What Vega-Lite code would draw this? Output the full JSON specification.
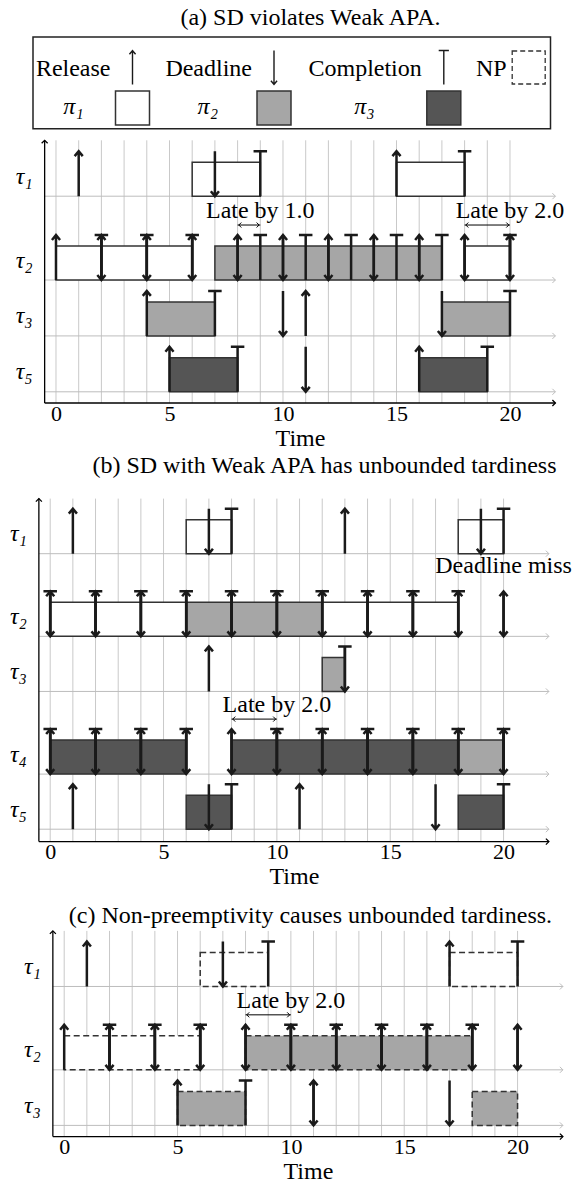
{
 "$schema": "https://vega.github.io/schema/vega-lite/v6.json",
 "background": "white",
 "padding": {"left": 9, "top": 5, "right": 0, "bottom": 0},
 "bounds": "flush",
 "spacing": 11.3,
 "datasets": {
  "grid": [{"t":0},{"t":1},{"t":2},{"t":3},{"t":4},{"t":5},{"t":6},{"t":7},{"t":8},{"t":9},{"t":10},{"t":11},{"t":12},{"t":13},{"t":14},{"t":15},{"t":16},{"t":17},{"t":18},{"t":19},{"t":20}],
  "legend_events": [
   {"item":"Release","kind":"release","group":"events"},
   {"item":"Deadline","kind":"deadline","group":"events"},
   {"item":"Completion","kind":"completion","group":"events"},
   {"item":"NP","kind":"np","group":"events"}],
  "legend_procs": [
   {"item":"π₁","proc":"π1","group":"processors"},
   {"item":"π₂","proc":"π2","group":"processors"},
   {"item":"π₃","proc":"π3","group":"processors"}],
  "a_tasks": [{"task":"τ1","label":"τ₁"},{"task":"τ2","label":"τ₂"},{"task":"τ3","label":"τ₃"},{"task":"τ5","label":"τ₅"}],
  "a_boxes": [
   {"task":"τ1","start":6,"end":9,"proc":"π1"},
   {"task":"τ1","start":15,"end":18,"proc":"π1"},
   {"task":"τ2","start":0,"end":6,"proc":"π1"},
   {"task":"τ2","start":7,"end":17,"proc":"π2"},
   {"task":"τ2","start":18,"end":20,"proc":"π1"},
   {"task":"τ3","start":4,"end":7,"proc":"π2"},
   {"task":"τ3","start":17,"end":20,"proc":"π2"},
   {"task":"τ5","start":5,"end":8,"proc":"π3"},
   {"task":"τ5","start":16,"end":19,"proc":"π3"}],
  "a_events": [
   {"task":"τ1","t":1,"kind":"release"},{"task":"τ1","t":15,"kind":"release"},{"task":"τ1","t":7,"kind":"deadline"},{"task":"τ1","t":9,"kind":"completion"},{"task":"τ1","t":18,"kind":"completion"},
   {"task":"τ2","t":0,"kind":"release"},{"task":"τ2","t":2,"kind":"release"},{"task":"τ2","t":4,"kind":"release"},{"task":"τ2","t":6,"kind":"release"},{"task":"τ2","t":8,"kind":"release"},{"task":"τ2","t":10,"kind":"release"},{"task":"τ2","t":12,"kind":"release"},{"task":"τ2","t":14,"kind":"release"},{"task":"τ2","t":16,"kind":"release"},{"task":"τ2","t":18,"kind":"release"},{"task":"τ2","t":20,"kind":"release"},
   {"task":"τ2","t":2,"kind":"deadline"},{"task":"τ2","t":4,"kind":"deadline"},{"task":"τ2","t":6,"kind":"deadline"},{"task":"τ2","t":8,"kind":"deadline"},{"task":"τ2","t":10,"kind":"deadline"},{"task":"τ2","t":12,"kind":"deadline"},{"task":"τ2","t":14,"kind":"deadline"},{"task":"τ2","t":16,"kind":"deadline"},{"task":"τ2","t":18,"kind":"deadline"},{"task":"τ2","t":20,"kind":"deadline"},
   {"task":"τ2","t":2,"kind":"completion"},{"task":"τ2","t":4,"kind":"completion"},{"task":"τ2","t":6,"kind":"completion"},{"task":"τ2","t":9,"kind":"completion"},{"task":"τ2","t":11,"kind":"completion"},{"task":"τ2","t":13,"kind":"completion"},{"task":"τ2","t":15,"kind":"completion"},{"task":"τ2","t":17,"kind":"completion"},{"task":"τ2","t":20,"kind":"completion"},
   {"task":"τ3","t":4,"kind":"release"},{"task":"τ3","t":11,"kind":"release"},{"task":"τ3","t":10,"kind":"deadline"},{"task":"τ3","t":17,"kind":"deadline"},{"task":"τ3","t":7,"kind":"completion"},{"task":"τ3","t":20,"kind":"completion"},
   {"task":"τ5","t":5,"kind":"release"},{"task":"τ5","t":16,"kind":"release"},{"task":"τ5","t":11,"kind":"deadline"},{"task":"τ5","t":8,"kind":"completion"},{"task":"τ5","t":19,"kind":"completion"}],
  "a_late": [{"task":"τ2","from":8,"to":9,"label":"Late by 1.0"},{"task":"τ2","from":18,"to":20,"label":"Late by 2.0"}],
  "b_tasks": [{"task":"τ1","label":"τ₁"},{"task":"τ2","label":"τ₂"},{"task":"τ3","label":"τ₃"},{"task":"τ4","label":"τ₄"},{"task":"τ5","label":"τ₅"}],
  "b_boxes": [
   {"task":"τ1","start":6,"end":8,"proc":"π1"},
   {"task":"τ1","start":18,"end":20,"proc":"π1"},
   {"task":"τ2","start":0,"end":6,"proc":"π1"},
   {"task":"τ2","start":6,"end":12,"proc":"π2"},
   {"task":"τ2","start":12,"end":18,"proc":"π1"},
   {"task":"τ3","start":12,"end":13,"proc":"π2"},
   {"task":"τ4","start":0,"end":6,"proc":"π3"},
   {"task":"τ4","start":8,"end":18,"proc":"π3"},
   {"task":"τ4","start":18,"end":20,"proc":"π2"},
   {"task":"τ5","start":6,"end":8,"proc":"π3"},
   {"task":"τ5","start":18,"end":20,"proc":"π3"}],
  "b_events": [
   {"task":"τ1","t":1,"kind":"release"},{"task":"τ1","t":13,"kind":"release"},{"task":"τ1","t":7,"kind":"deadline"},{"task":"τ1","t":19,"kind":"deadline"},{"task":"τ1","t":8,"kind":"completion"},{"task":"τ1","t":20,"kind":"completion"},
   {"task":"τ2","t":0,"kind":"release"},{"task":"τ2","t":2,"kind":"release"},{"task":"τ2","t":4,"kind":"release"},{"task":"τ2","t":6,"kind":"release"},{"task":"τ2","t":8,"kind":"release"},{"task":"τ2","t":10,"kind":"release"},{"task":"τ2","t":12,"kind":"release"},{"task":"τ2","t":14,"kind":"release"},{"task":"τ2","t":16,"kind":"release"},{"task":"τ2","t":18,"kind":"release"},{"task":"τ2","t":20,"kind":"release"},
   {"task":"τ2","t":0,"kind":"deadline"},{"task":"τ2","t":2,"kind":"deadline"},{"task":"τ2","t":4,"kind":"deadline"},{"task":"τ2","t":6,"kind":"deadline"},{"task":"τ2","t":8,"kind":"deadline"},{"task":"τ2","t":10,"kind":"deadline"},{"task":"τ2","t":12,"kind":"deadline"},{"task":"τ2","t":14,"kind":"deadline"},{"task":"τ2","t":16,"kind":"deadline"},{"task":"τ2","t":18,"kind":"deadline"},{"task":"τ2","t":20,"kind":"deadline"},
   {"task":"τ2","t":0,"kind":"completion"},{"task":"τ2","t":2,"kind":"completion"},{"task":"τ2","t":4,"kind":"completion"},{"task":"τ2","t":6,"kind":"completion"},{"task":"τ2","t":8,"kind":"completion"},{"task":"τ2","t":10,"kind":"completion"},{"task":"τ2","t":12,"kind":"completion"},{"task":"τ2","t":14,"kind":"completion"},{"task":"τ2","t":16,"kind":"completion"},{"task":"τ2","t":18,"kind":"completion"},
   {"task":"τ3","t":7,"kind":"release"},{"task":"τ3","t":13,"kind":"deadline"},{"task":"τ3","t":13,"kind":"completion"},
   {"task":"τ4","t":0,"kind":"release"},{"task":"τ4","t":2,"kind":"release"},{"task":"τ4","t":4,"kind":"release"},{"task":"τ4","t":6,"kind":"release"},{"task":"τ4","t":8,"kind":"release"},{"task":"τ4","t":10,"kind":"release"},{"task":"τ4","t":12,"kind":"release"},{"task":"τ4","t":14,"kind":"release"},{"task":"τ4","t":16,"kind":"release"},{"task":"τ4","t":18,"kind":"release"},{"task":"τ4","t":20,"kind":"release"},
   {"task":"τ4","t":0,"kind":"deadline"},{"task":"τ4","t":2,"kind":"deadline"},{"task":"τ4","t":4,"kind":"deadline"},{"task":"τ4","t":6,"kind":"deadline"},{"task":"τ4","t":8,"kind":"deadline"},{"task":"τ4","t":10,"kind":"deadline"},{"task":"τ4","t":12,"kind":"deadline"},{"task":"τ4","t":14,"kind":"deadline"},{"task":"τ4","t":16,"kind":"deadline"},{"task":"τ4","t":18,"kind":"deadline"},{"task":"τ4","t":20,"kind":"deadline"},
   {"task":"τ4","t":0,"kind":"completion"},{"task":"τ4","t":2,"kind":"completion"},{"task":"τ4","t":4,"kind":"completion"},{"task":"τ4","t":6,"kind":"completion"},{"task":"τ4","t":10,"kind":"completion"},{"task":"τ4","t":12,"kind":"completion"},{"task":"τ4","t":14,"kind":"completion"},{"task":"τ4","t":16,"kind":"completion"},{"task":"τ4","t":18,"kind":"completion"},{"task":"τ4","t":20,"kind":"completion"},
   {"task":"τ5","t":1,"kind":"release"},{"task":"τ5","t":11,"kind":"release"},{"task":"τ5","t":7,"kind":"deadline"},{"task":"τ5","t":17,"kind":"deadline"},{"task":"τ5","t":8,"kind":"completion"},{"task":"τ5","t":20,"kind":"completion"}],
  "b_late": [{"task":"τ4","from":8,"to":10,"label":"Late by 2.0"}],
  "b_notes": [{"task":"τ1","t":20,"label":"Deadline miss"}],
  "c_tasks": [{"task":"τ1","label":"τ₁"},{"task":"τ2","label":"τ₂"},{"task":"τ3","label":"τ₃"}],
  "c_boxes": [
   {"task":"τ1","start":6,"end":9,"proc":"π1"},
   {"task":"τ1","start":17,"end":20,"proc":"π1"},
   {"task":"τ2","start":0,"end":6,"proc":"π1"},
   {"task":"τ2","start":8,"end":18,"proc":"π2"},
   {"task":"τ3","start":5,"end":8,"proc":"π2"},
   {"task":"τ3","start":18,"end":20,"proc":"π2"}],
  "c_events": [
   {"task":"τ1","t":1,"kind":"release"},{"task":"τ1","t":17,"kind":"release"},{"task":"τ1","t":7,"kind":"deadline"},{"task":"τ1","t":9,"kind":"completion"},{"task":"τ1","t":20,"kind":"completion"},
   {"task":"τ2","t":0,"kind":"release"},{"task":"τ2","t":2,"kind":"release"},{"task":"τ2","t":4,"kind":"release"},{"task":"τ2","t":6,"kind":"release"},{"task":"τ2","t":8,"kind":"release"},{"task":"τ2","t":10,"kind":"release"},{"task":"τ2","t":12,"kind":"release"},{"task":"τ2","t":14,"kind":"release"},{"task":"τ2","t":16,"kind":"release"},{"task":"τ2","t":18,"kind":"release"},{"task":"τ2","t":20,"kind":"release"},
   {"task":"τ2","t":2,"kind":"deadline"},{"task":"τ2","t":4,"kind":"deadline"},{"task":"τ2","t":6,"kind":"deadline"},{"task":"τ2","t":8,"kind":"deadline"},{"task":"τ2","t":10,"kind":"deadline"},{"task":"τ2","t":12,"kind":"deadline"},{"task":"τ2","t":14,"kind":"deadline"},{"task":"τ2","t":16,"kind":"deadline"},{"task":"τ2","t":18,"kind":"deadline"},{"task":"τ2","t":20,"kind":"deadline"},
   {"task":"τ2","t":2,"kind":"completion"},{"task":"τ2","t":4,"kind":"completion"},{"task":"τ2","t":6,"kind":"completion"},{"task":"τ2","t":10,"kind":"completion"},{"task":"τ2","t":12,"kind":"completion"},{"task":"τ2","t":14,"kind":"completion"},{"task":"τ2","t":16,"kind":"completion"},{"task":"τ2","t":18,"kind":"completion"},
   {"task":"τ3","t":5,"kind":"release"},{"task":"τ3","t":11,"kind":"release"},{"task":"τ3","t":11,"kind":"deadline"},{"task":"τ3","t":17,"kind":"deadline"},{"task":"τ3","t":8,"kind":"completion"}],
  "c_late": [{"task":"τ2","from":8,"to":10,"label":"Late by 2.0"}]
 },
 "vconcat": [
  {
   "width": 517.5,
   "height": 91.7,
   "view": {"stroke": "#222222", "strokeWidth": 1.5},
   "title": {"text": "(a) SD violates Weak APA.", "font": "Liberation Serif", "fontSize": 24, "fontWeight": "normal", "color": "black", "frame": "group", "anchor": "middle", "dx": 18.75, "offset": 7},
   "layer": [
    {
     "data": {"name": "legend_events"},
     "encoding": {
      "x": {"field": "item", "type": "nominal", "scale": {"type": "point", "domain": ["Release","r1","r2","r3","r4","Deadline","r5","r6","r7","r8","r9","Completion","r10","r11","NP"], "range": [99.5, 495.7], "padding": 0}, "axis": null},
      "y": {"field": "group", "type": "nominal", "scale": {"type": "point", "domain": ["events","processors"], "range": [30.5, 71], "padding": 0}, "axis": null}
     },
     "layer": [
      {"mark": {"type": "text", "align": "right", "baseline": "alphabetic", "dx": -22, "dy": 8.5, "fontSize": 24, "font": "Liberation Serif", "fill": "black"},
       "encoding": {"text": {"field": "item"}}},
      {"transform": [{"filter": "datum.kind !== 'np'"}],
       "mark": {"type": "point", "size": 1156, "filled": false, "stroke": "#1a1a1a", "strokeWidth": 1.4, "opacity": 1},
       "encoding": {"shape": {"field": "kind", "type": "nominal", "scale": {"domain": ["release","deadline","completion"], "range": ["M0,1L0,-1M-0.18,-0.78L0,-1L0.18,-0.78", "M0,-1L0,1M-0.18,0.78L0,1L0.18,0.78", "M0,1L0,-1M-0.3,-1L0.3,-1"]}, "legend": null}}},
      {"transform": [{"filter": "datum.kind === 'np'"}],
       "mark": {"type": "point", "shape": "square", "size": 1089, "filled": false, "stroke": "#333333", "strokeWidth": 1.3, "strokeDash": [5, 3], "opacity": 1}}
     ]
    },
    {
     "data": {"name": "legend_procs"},
     "mark": {"type": "point", "shape": "square", "size": 1156, "filled": true, "stroke": "#333333", "strokeWidth": 1.5, "opacity": 1},
     "encoding": {
      "x": {"field": "item", "type": "nominal", "scale": {"type": "point", "domain": ["π₁","p1","p2","p3","p4","π₂","p5","p6","p7","p8","p9","π₃","p10","p11","p12"], "range": [99.5, 495.7], "padding": 0}, "axis": null},
      "y": {"field": "group", "type": "nominal", "scale": {"type": "point", "domain": ["events","processors"], "range": [30.5, 71], "padding": 0}, "axis": null},
      "fill": {"field": "proc", "type": "nominal", "scale": {"domain": ["π1","π2","π3"], "range": ["#ffffff","#a6a6a6","#555555"]}, "legend": null}
     }
    },
    {
     "data": {"name": "legend_procs"},
     "mark": {"type": "text", "align": "center", "baseline": "alphabetic", "dy": 6, "fontSize": 24, "fontStyle": "italic", "font": "Liberation Serif", "fill": "black"},
     "encoding": {
      "x": {"field": "item", "type": "nominal", "scale": {"type": "point", "domain": ["π₁","q1","q2","q3","q4","q5","π₂","q6","q7","q8","q9","q10","q11","π₃"], "range": [40.5, 331.5], "padding": 0}, "axis": null},
      "y": {"field": "group", "type": "nominal", "scale": {"type": "point", "domain": ["events","processors"], "range": [30.5, 71], "padding": 0}, "axis": null},
      "text": {"field": "item"}
     }
    }
   ],
   "resolve": {"scale": {"x": "independent"}}
  },
  {
   "width": 522.4,
   "height": 262.7,
   "layer": [
    {"data": {"name": "grid"},
     "mark": {"type": "rule", "stroke": "#c9c9c9", "strokeWidth": 1},
     "encoding": {
      "x": {"field": "t", "type": "quantitative", "scale": {"domain": [-1.013, 22], "nice": false, "zero": false}, "axis": {"values": [0,5,10,15,20], "title": "Time", "titleX": 267, "titleY": 23, "labelFont": "Liberation Serif", "labelFontSize": 22, "labelPadding": 0, "titleFont": "Liberation Serif", "titleFontSize": 24, "titleFontWeight": "normal"}},
      "y": {"datum": "top", "type": "nominal", "scale": {"type": "point", "domain": ["top","s0","τ1","s1","s2","τ2","s3","τ3","s4","τ5"], "range": [0, 251.5], "padding": 0}, "axis": null},
      "y2": {"value": "height"}}},
    {"data": {"name": "a_tasks"},
     "mark": {"type": "rule", "stroke": "#bdbdbd", "strokeWidth": 1},
     "encoding": {
      "x": {"datum": -0.5, "type": "quantitative", "scale": {"domain": [-1.013, 22], "nice": false, "zero": false}, "axis": {"values": [0,5,10,15,20], "title": "Time", "titleX": 267, "titleY": 23, "labelFont": "Liberation Serif", "labelFontSize": 22, "labelPadding": 0, "titleFont": "Liberation Serif", "titleFontSize": 24, "titleFontWeight": "normal"}},
      "x2": {"datum": 22},
      "y": {"field": "task", "type": "nominal", "scale": {"type": "point", "domain": ["top","s0","τ1","s1","s2","τ2","s3","τ3","s4","τ5"], "range": [0, 251.5], "padding": 0}, "axis": null}}},
    {"data": {"name": "a_tasks"},
     "mark": {"type": "point", "shape": "M-1,-1L0,0L-1,1", "size": 36, "filled": false, "stroke": "#bdbdbd", "strokeWidth": 1, "opacity": 1},
     "encoding": {
      "x": {"datum": 22, "type": "quantitative", "scale": {"domain": [-1.013, 22], "nice": false, "zero": false}, "axis": {"values": [0,5,10,15,20], "title": "Time", "titleX": 267, "titleY": 23, "labelFont": "Liberation Serif", "labelFontSize": 22, "labelPadding": 0, "titleFont": "Liberation Serif", "titleFontSize": 24, "titleFontWeight": "normal"}},
      "y": {"field": "task", "type": "nominal", "scale": {"type": "point", "domain": ["top","s0","τ1","s1","s2","τ2","s3","τ3","s4","τ5"], "range": [0, 251.5], "padding": 0}, "axis": null}}},
    {"data": {"values": [{}]},
     "mark": {"type": "rule", "stroke": "black", "strokeWidth": 1.3},
     "encoding": {
      "x": {"datum": -0.5, "type": "quantitative", "scale": {"domain": [-1.013, 22], "nice": false, "zero": false}, "axis": {"values": [0,5,10,15,20], "title": "Time", "titleX": 267, "titleY": 23, "labelFont": "Liberation Serif", "labelFontSize": 22, "labelPadding": 0, "titleFont": "Liberation Serif", "titleFontSize": 24, "titleFontWeight": "normal"}},
      "y": {"datum": "top", "type": "nominal", "scale": {"type": "point", "domain": ["top","s0","τ1","s1","s2","τ2","s3","τ3","s4","τ5"], "range": [0, 251.5], "padding": 0}, "axis": null},
      "y2": {"value": "height"}}},
    {"data": {"values": [{}]},
     "mark": {"type": "rule", "stroke": "black", "strokeWidth": 1.3},
     "encoding": {
      "x": {"datum": -0.5, "type": "quantitative", "scale": {"domain": [-1.013, 22], "nice": false, "zero": false}, "axis": {"values": [0,5,10,15,20], "title": "Time", "titleX": 267, "titleY": 23, "labelFont": "Liberation Serif", "labelFontSize": 22, "labelPadding": 0, "titleFont": "Liberation Serif", "titleFontSize": 24, "titleFontWeight": "normal"}},
      "x2": {"datum": 22},
      "y": {"value": "height"}}},
    {"data": {"values": [{}]},
     "mark": {"type": "point", "shape": "M-1,-1L0,0L-1,1", "size": 36, "filled": false, "stroke": "black", "strokeWidth": 1.3, "opacity": 1},
     "encoding": {
      "x": {"datum": 22, "type": "quantitative", "scale": {"domain": [-1.013, 22], "nice": false, "zero": false}, "axis": {"values": [0,5,10,15,20], "title": "Time", "titleX": 267, "titleY": 23, "labelFont": "Liberation Serif", "labelFontSize": 22, "labelPadding": 0, "titleFont": "Liberation Serif", "titleFontSize": 24, "titleFontWeight": "normal"}},
      "y": {"value": "height"}}},
    {"data": {"values": [{}]},
     "mark": {"type": "point", "shape": "M-1,1L0,0L1,1", "size": 36, "filled": false, "stroke": "black", "strokeWidth": 1.3, "opacity": 1},
     "encoding": {
      "x": {"datum": -0.5, "type": "quantitative", "scale": {"domain": [-1.013, 22], "nice": false, "zero": false}, "axis": {"values": [0,5,10,15,20], "title": "Time", "titleX": 267, "titleY": 23, "labelFont": "Liberation Serif", "labelFontSize": 22, "labelPadding": 0, "titleFont": "Liberation Serif", "titleFontSize": 24, "titleFontWeight": "normal"}},
      "y": {"datum": "top", "type": "nominal", "scale": {"type": "point", "domain": ["top","s0","τ1","s1","s2","τ2","s3","τ3","s4","τ5"], "range": [0, 251.5], "padding": 0}, "axis": null}}},
    {"data": {"name": "a_boxes"},
     "mark": {"type": "bar", "height": 34, "yOffset": -17, "stroke": "#333333", "strokeWidth": 1.5},
     "encoding": {
      "x": {"field": "start", "type": "quantitative", "scale": {"domain": [-1.013, 22], "nice": false, "zero": false}, "axis": {"values": [0,5,10,15,20], "title": "Time", "titleX": 267, "titleY": 23, "labelFont": "Liberation Serif", "labelFontSize": 22, "labelPadding": 0, "titleFont": "Liberation Serif", "titleFontSize": 24, "titleFontWeight": "normal"}},
      "x2": {"field": "end"},
      "y": {"field": "task", "type": "nominal", "scale": {"type": "point", "domain": ["top","s0","τ1","s1","s2","τ2","s3","τ3","s4","τ5"], "range": [0, 251.5], "padding": 0}, "axis": null},
      "fill": {"field": "proc", "type": "nominal", "scale": {"domain": ["π1","π2","π3"], "range": ["#ffffff","#a6a6a6","#555555"]}, "legend": null}}},
    {"data": {"name": "a_events"},
     "mark": {"type": "point", "size": 2025, "filled": false, "stroke": "#1a1a1a", "strokeWidth": 2.5, "opacity": 1, "yOffset": -22.5},
     "encoding": {
      "x": {"field": "t", "type": "quantitative", "scale": {"domain": [-1.013, 22], "nice": false, "zero": false}, "axis": {"values": [0,5,10,15,20], "title": "Time", "titleX": 267, "titleY": 23, "labelFont": "Liberation Serif", "labelFontSize": 22, "labelPadding": 0, "titleFont": "Liberation Serif", "titleFontSize": 24, "titleFontWeight": "normal"}},
      "y": {"field": "task", "type": "nominal", "scale": {"type": "point", "domain": ["top","s0","τ1","s1","s2","τ2","s3","τ3","s4","τ5"], "range": [0, 251.5], "padding": 0}, "axis": null},
      "shape": {"field": "kind", "type": "nominal", "scale": {"domain": ["release","deadline","completion"], "range": ["M0,0L0,-2M-0.22,-1.65L0,-2L0.22,-1.65", "M0,-2L0,0M-0.22,-0.35L0,0L0.22,-0.35", "M0,0L0,-2M-0.4,-2L0.4,-2"]}, "legend": null}}},
    {"data": {"name": "a_late"},
     "mark": {"type": "rule", "stroke": "black", "strokeWidth": 1, "yOffset": -55, "y2Offset": -55},
     "encoding": {
      "x": {"field": "from", "type": "quantitative", "scale": {"domain": [-1.013, 22], "nice": false, "zero": false}, "axis": {"values": [0,5,10,15,20], "title": "Time", "titleX": 267, "titleY": 23, "labelFont": "Liberation Serif", "labelFontSize": 22, "labelPadding": 0, "titleFont": "Liberation Serif", "titleFontSize": 24, "titleFontWeight": "normal"}},
      "x2": {"field": "to"},
      "y": {"field": "task", "type": "nominal", "scale": {"type": "point", "domain": ["top","s0","τ1","s1","s2","τ2","s3","τ3","s4","τ5"], "range": [0, 251.5], "padding": 0}, "axis": null}}},
    {"data": {"name": "a_late"},
     "mark": {"type": "point", "shape": "M1,-1L0,0L1,1", "size": 25, "filled": false, "stroke": "black", "strokeWidth": 1, "opacity": 1, "yOffset": -55, "xOffset": 1.2},
     "encoding": {
      "x": {"field": "from", "type": "quantitative", "scale": {"domain": [-1.013, 22], "nice": false, "zero": false}, "axis": {"values": [0,5,10,15,20], "title": "Time", "titleX": 267, "titleY": 23, "labelFont": "Liberation Serif", "labelFontSize": 22, "labelPadding": 0, "titleFont": "Liberation Serif", "titleFontSize": 24, "titleFontWeight": "normal"}},
      "y": {"field": "task", "type": "nominal", "scale": {"type": "point", "domain": ["top","s0","τ1","s1","s2","τ2","s3","τ3","s4","τ5"], "range": [0, 251.5], "padding": 0}, "axis": null}}},
    {"data": {"name": "a_late"},
     "mark": {"type": "point", "shape": "M-1,-1L0,0L-1,1", "size": 25, "filled": false, "stroke": "black", "strokeWidth": 1, "opacity": 1, "yOffset": -55, "xOffset": -1.2},
     "encoding": {
      "x": {"field": "to", "type": "quantitative", "scale": {"domain": [-1.013, 22], "nice": false, "zero": false}, "axis": {"values": [0,5,10,15,20], "title": "Time", "titleX": 267, "titleY": 23, "labelFont": "Liberation Serif", "labelFontSize": 22, "labelPadding": 0, "titleFont": "Liberation Serif", "titleFontSize": 24, "titleFontWeight": "normal"}},
      "y": {"field": "task", "type": "nominal", "scale": {"type": "point", "domain": ["top","s0","τ1","s1","s2","τ2","s3","τ3","s4","τ5"], "range": [0, 251.5], "padding": 0}, "axis": null}}},
    {"data": {"name": "a_late"},
     "mark": {"type": "text", "align": "center", "baseline": "alphabetic", "dy": -62, "fontSize": 24, "font": "Liberation Serif", "fill": "black"},
     "encoding": {
      "x": {"field": "to", "type": "quantitative", "scale": {"domain": [-1.013, 22], "nice": false, "zero": false}, "axis": {"values": [0,5,10,15,20], "title": "Time", "titleX": 267, "titleY": 23, "labelFont": "Liberation Serif", "labelFontSize": 22, "labelPadding": 0, "titleFont": "Liberation Serif", "titleFontSize": 24, "titleFontWeight": "normal"}},
      "y": {"field": "task", "type": "nominal", "scale": {"type": "point", "domain": ["top","s0","τ1","s1","s2","τ2","s3","τ3","s4","τ5"], "range": [0, 251.5], "padding": 0}, "axis": null},
      "text": {"field": "label"}}},
    {"data": {"name": "a_tasks"},
     "mark": {"type": "text", "align": "right", "baseline": "alphabetic", "dx": -12, "dy": -12.5, "fontSize": 24, "fontStyle": "italic", "font": "Liberation Serif", "fill": "black"},
     "encoding": {
      "x": {"datum": -0.5, "type": "quantitative", "scale": {"domain": [-1.013, 22], "nice": false, "zero": false}, "axis": {"values": [0,5,10,15,20], "title": "Time", "titleX": 267, "titleY": 23, "labelFont": "Liberation Serif", "labelFontSize": 22, "labelPadding": 0, "titleFont": "Liberation Serif", "titleFontSize": 24, "titleFontWeight": "normal"}},
      "y": {"field": "task", "type": "nominal", "scale": {"type": "point", "domain": ["top","s0","τ1","s1","s2","τ2","s3","τ3","s4","τ5"], "range": [0, 251.5], "padding": 0}, "axis": null},
      "text": {"field": "label"}}}
   ]
  },
  {
   "width": 515.9,
   "height": 427,
   "title": {"text": "(b) SD with Weak APA has unbounded tardiness", "font": "Liberation Serif", "fontSize": 24, "fontWeight": "normal", "color": "black", "frame": "group", "anchor": "middle", "dx": 33.5, "offset": -63},
   "layer": [
    {"data": {"name": "grid"},
     "mark": {"type": "rule", "stroke": "#c9c9c9", "strokeWidth": 1},
     "encoding": {
      "x": {"field": "t", "type": "quantitative", "scale": {"domain": [-0.759, 22], "nice": false, "zero": false}, "axis": {"values": [0,5,10,15,20], "title": "Time", "titleX": 260.9, "titleY": 23, "labelFont": "Liberation Serif", "labelFontSize": 22, "labelPadding": 0, "titleFont": "Liberation Serif", "titleFontSize": 24, "titleFontWeight": "normal"}},
      "y": {"datum": "top", "type": "nominal", "scale": {"type": "point", "domain": ["top","s0","τ1","s1","s2","τ2","s3","τ3","s4","s5","τ4","s6","τ5"], "range": [84, 414.6], "padding": 0}, "axis": null},
      "y2": {"value": "height"}}},
    {"data": {"name": "b_tasks"},
     "mark": {"type": "rule", "stroke": "#bdbdbd", "strokeWidth": 1},
     "encoding": {
      "x": {"datum": -0.5, "type": "quantitative", "scale": {"domain": [-0.759, 22], "nice": false, "zero": false}, "axis": {"values": [0,5,10,15,20], "title": "Time", "titleX": 260.9, "titleY": 23, "labelFont": "Liberation Serif", "labelFontSize": 22, "labelPadding": 0, "titleFont": "Liberation Serif", "titleFontSize": 24, "titleFontWeight": "normal"}},
      "x2": {"datum": 22},
      "y": {"field": "task", "type": "nominal", "scale": {"type": "point", "domain": ["top","s0","τ1","s1","s2","τ2","s3","τ3","s4","s5","τ4","s6","τ5"], "range": [84, 414.6], "padding": 0}, "axis": null}}},
    {"data": {"name": "b_tasks"},
     "mark": {"type": "point", "shape": "M-1,-1L0,0L-1,1", "size": 36, "filled": false, "stroke": "#bdbdbd", "strokeWidth": 1, "opacity": 1},
     "encoding": {
      "x": {"datum": 22, "type": "quantitative", "scale": {"domain": [-0.759, 22], "nice": false, "zero": false}, "axis": {"values": [0,5,10,15,20], "title": "Time", "titleX": 260.9, "titleY": 23, "labelFont": "Liberation Serif", "labelFontSize": 22, "labelPadding": 0, "titleFont": "Liberation Serif", "titleFontSize": 24, "titleFontWeight": "normal"}},
      "y": {"field": "task", "type": "nominal", "scale": {"type": "point", "domain": ["top","s0","τ1","s1","s2","τ2","s3","τ3","s4","s5","τ4","s6","τ5"], "range": [84, 414.6], "padding": 0}, "axis": null}}},
    {"data": {"values": [{}]},
     "mark": {"type": "rule", "stroke": "black", "strokeWidth": 1.3},
     "encoding": {
      "x": {"datum": -0.5, "type": "quantitative", "scale": {"domain": [-0.759, 22], "nice": false, "zero": false}, "axis": {"values": [0,5,10,15,20], "title": "Time", "titleX": 260.9, "titleY": 23, "labelFont": "Liberation Serif", "labelFontSize": 22, "labelPadding": 0, "titleFont": "Liberation Serif", "titleFontSize": 24, "titleFontWeight": "normal"}},
      "y": {"datum": "top", "type": "nominal", "scale": {"type": "point", "domain": ["top","s0","τ1","s1","s2","τ2","s3","τ3","s4","s5","τ4","s6","τ5"], "range": [84, 414.6], "padding": 0}, "axis": null},
      "y2": {"value": "height"}}},
    {"data": {"values": [{}]},
     "mark": {"type": "rule", "stroke": "black", "strokeWidth": 1.3},
     "encoding": {
      "x": {"datum": -0.5, "type": "quantitative", "scale": {"domain": [-0.759, 22], "nice": false, "zero": false}, "axis": {"values": [0,5,10,15,20], "title": "Time", "titleX": 260.9, "titleY": 23, "labelFont": "Liberation Serif", "labelFontSize": 22, "labelPadding": 0, "titleFont": "Liberation Serif", "titleFontSize": 24, "titleFontWeight": "normal"}},
      "x2": {"datum": 22},
      "y": {"value": "height"}}},
    {"data": {"values": [{}]},
     "mark": {"type": "point", "shape": "M-1,-1L0,0L-1,1", "size": 36, "filled": false, "stroke": "black", "strokeWidth": 1.3, "opacity": 1},
     "encoding": {
      "x": {"datum": 22, "type": "quantitative", "scale": {"domain": [-0.759, 22], "nice": false, "zero": false}, "axis": {"values": [0,5,10,15,20], "title": "Time", "titleX": 260.9, "titleY": 23, "labelFont": "Liberation Serif", "labelFontSize": 22, "labelPadding": 0, "titleFont": "Liberation Serif", "titleFontSize": 24, "titleFontWeight": "normal"}},
      "y": {"value": "height"}}},
    {"data": {"values": [{}]},
     "mark": {"type": "point", "shape": "M-1,1L0,0L1,1", "size": 36, "filled": false, "stroke": "black", "strokeWidth": 1.3, "opacity": 1},
     "encoding": {
      "x": {"datum": -0.5, "type": "quantitative", "scale": {"domain": [-0.759, 22], "nice": false, "zero": false}, "axis": {"values": [0,5,10,15,20], "title": "Time", "titleX": 260.9, "titleY": 23, "labelFont": "Liberation Serif", "labelFontSize": 22, "labelPadding": 0, "titleFont": "Liberation Serif", "titleFontSize": 24, "titleFontWeight": "normal"}},
      "y": {"datum": "top", "type": "nominal", "scale": {"type": "point", "domain": ["top","s0","τ1","s1","s2","τ2","s3","τ3","s4","s5","τ4","s6","τ5"], "range": [84, 414.6], "padding": 0}, "axis": null}}},
    {"data": {"name": "b_boxes"},
     "mark": {"type": "bar", "height": 34, "yOffset": -17, "stroke": "#333333", "strokeWidth": 1.5},
     "encoding": {
      "x": {"field": "start", "type": "quantitative", "scale": {"domain": [-0.759, 22], "nice": false, "zero": false}, "axis": {"values": [0,5,10,15,20], "title": "Time", "titleX": 260.9, "titleY": 23, "labelFont": "Liberation Serif", "labelFontSize": 22, "labelPadding": 0, "titleFont": "Liberation Serif", "titleFontSize": 24, "titleFontWeight": "normal"}},
      "x2": {"field": "end"},
      "y": {"field": "task", "type": "nominal", "scale": {"type": "point", "domain": ["top","s0","τ1","s1","s2","τ2","s3","τ3","s4","s5","τ4","s6","τ5"], "range": [84, 414.6], "padding": 0}, "axis": null},
      "fill": {"field": "proc", "type": "nominal", "scale": {"domain": ["π1","π2","π3"], "range": ["#ffffff","#a6a6a6","#555555"]}, "legend": null}}},
    {"data": {"name": "b_events"},
     "mark": {"type": "point", "size": 2025, "filled": false, "stroke": "#1a1a1a", "strokeWidth": 2.5, "opacity": 1, "yOffset": -22.5},
     "encoding": {
      "x": {"field": "t", "type": "quantitative", "scale": {"domain": [-0.759, 22], "nice": false, "zero": false}, "axis": {"values": [0,5,10,15,20], "title": "Time", "titleX": 260.9, "titleY": 23, "labelFont": "Liberation Serif", "labelFontSize": 22, "labelPadding": 0, "titleFont": "Liberation Serif", "titleFontSize": 24, "titleFontWeight": "normal"}},
      "y": {"field": "task", "type": "nominal", "scale": {"type": "point", "domain": ["top","s0","τ1","s1","s2","τ2","s3","τ3","s4","s5","τ4","s6","τ5"], "range": [84, 414.6], "padding": 0}, "axis": null},
      "shape": {"field": "kind", "type": "nominal", "scale": {"domain": ["release","deadline","completion"], "range": ["M0,0L0,-2M-0.22,-1.65L0,-2L0.22,-1.65", "M0,-2L0,0M-0.22,-0.35L0,0L0.22,-0.35", "M0,0L0,-2M-0.4,-2L0.4,-2"]}, "legend": null}}},
    {"data": {"name": "b_late"},
     "mark": {"type": "rule", "stroke": "black", "strokeWidth": 1, "yOffset": -55, "y2Offset": -55},
     "encoding": {
      "x": {"field": "from", "type": "quantitative", "scale": {"domain": [-0.759, 22], "nice": false, "zero": false}, "axis": {"values": [0,5,10,15,20], "title": "Time", "titleX": 260.9, "titleY": 23, "labelFont": "Liberation Serif", "labelFontSize": 22, "labelPadding": 0, "titleFont": "Liberation Serif", "titleFontSize": 24, "titleFontWeight": "normal"}},
      "x2": {"field": "to"},
      "y": {"field": "task", "type": "nominal", "scale": {"type": "point", "domain": ["top","s0","τ1","s1","s2","τ2","s3","τ3","s4","s5","τ4","s6","τ5"], "range": [84, 414.6], "padding": 0}, "axis": null}}},
    {"data": {"name": "b_late"},
     "mark": {"type": "point", "shape": "M1,-1L0,0L1,1", "size": 25, "filled": false, "stroke": "black", "strokeWidth": 1, "opacity": 1, "yOffset": -55, "xOffset": 1.2},
     "encoding": {
      "x": {"field": "from", "type": "quantitative", "scale": {"domain": [-0.759, 22], "nice": false, "zero": false}, "axis": {"values": [0,5,10,15,20], "title": "Time", "titleX": 260.9, "titleY": 23, "labelFont": "Liberation Serif", "labelFontSize": 22, "labelPadding": 0, "titleFont": "Liberation Serif", "titleFontSize": 24, "titleFontWeight": "normal"}},
      "y": {"field": "task", "type": "nominal", "scale": {"type": "point", "domain": ["top","s0","τ1","s1","s2","τ2","s3","τ3","s4","s5","τ4","s6","τ5"], "range": [84, 414.6], "padding": 0}, "axis": null}}},
    {"data": {"name": "b_late"},
     "mark": {"type": "point", "shape": "M-1,-1L0,0L-1,1", "size": 25, "filled": false, "stroke": "black", "strokeWidth": 1, "opacity": 1, "yOffset": -55, "xOffset": -1.2},
     "encoding": {
      "x": {"field": "to", "type": "quantitative", "scale": {"domain": [-0.759, 22], "nice": false, "zero": false}, "axis": {"values": [0,5,10,15,20], "title": "Time", "titleX": 260.9, "titleY": 23, "labelFont": "Liberation Serif", "labelFontSize": 22, "labelPadding": 0, "titleFont": "Liberation Serif", "titleFontSize": 24, "titleFontWeight": "normal"}},
      "y": {"field": "task", "type": "nominal", "scale": {"type": "point", "domain": ["top","s0","τ1","s1","s2","τ2","s3","τ3","s4","s5","τ4","s6","τ5"], "range": [84, 414.6], "padding": 0}, "axis": null}}},
    {"data": {"name": "b_late"},
     "mark": {"type": "text", "align": "center", "baseline": "alphabetic", "dy": -62, "fontSize": 24, "font": "Liberation Serif", "fill": "black"},
     "encoding": {
      "x": {"field": "to", "type": "quantitative", "scale": {"domain": [-0.759, 22], "nice": false, "zero": false}, "axis": {"values": [0,5,10,15,20], "title": "Time", "titleX": 260.9, "titleY": 23, "labelFont": "Liberation Serif", "labelFontSize": 22, "labelPadding": 0, "titleFont": "Liberation Serif", "titleFontSize": 24, "titleFontWeight": "normal"}},
      "y": {"field": "task", "type": "nominal", "scale": {"type": "point", "domain": ["top","s0","τ1","s1","s2","τ2","s3","τ3","s4","s5","τ4","s6","τ5"], "range": [84, 414.6], "padding": 0}, "axis": null},
      "text": {"field": "label"}}},
    {"data": {"name": "b_notes"},
     "mark": {"type": "text", "align": "center", "baseline": "alphabetic", "dy": 19.5, "fontSize": 24, "font": "Liberation Serif", "fill": "black"},
     "encoding": {
      "x": {"field": "t", "type": "quantitative", "scale": {"domain": [-0.759, 22], "nice": false, "zero": false}, "axis": {"values": [0,5,10,15,20], "title": "Time", "titleX": 260.9, "titleY": 23, "labelFont": "Liberation Serif", "labelFontSize": 22, "labelPadding": 0, "titleFont": "Liberation Serif", "titleFontSize": 24, "titleFontWeight": "normal"}},
      "y": {"field": "task", "type": "nominal", "scale": {"type": "point", "domain": ["top","s0","τ1","s1","s2","τ2","s3","τ3","s4","s5","τ4","s6","τ5"], "range": [84, 414.6], "padding": 0}, "axis": null},
      "text": {"field": "label"}}},
    {"data": {"name": "b_tasks"},
     "mark": {"type": "text", "align": "right", "baseline": "alphabetic", "dx": -12, "dy": -12.5, "fontSize": 24, "fontStyle": "italic", "font": "Liberation Serif", "fill": "black"},
     "encoding": {
      "x": {"datum": -0.5, "type": "quantitative", "scale": {"domain": [-0.759, 22], "nice": false, "zero": false}, "axis": {"values": [0,5,10,15,20], "title": "Time", "titleX": 260.9, "titleY": 23, "labelFont": "Liberation Serif", "labelFontSize": 22, "labelPadding": 0, "titleFont": "Liberation Serif", "titleFontSize": 24, "titleFontWeight": "normal"}},
      "y": {"field": "task", "type": "nominal", "scale": {"type": "point", "domain": ["top","s0","τ1","s1","s2","τ2","s3","τ3","s4","s5","τ4","s6","τ5"], "range": [84, 414.6], "padding": 0}, "axis": null},
      "text": {"field": "label"}}}
   ]
  },
  {
   "width": 529.9,
   "height": 283.7,
   "title": {"text": "(c) Non-preemptivity causes unbounded tardiness.", "font": "Liberation Serif", "fontSize": 24, "fontWeight": "normal", "color": "black", "frame": "group", "anchor": "middle", "dx": 12.5, "offset": -74.7},
   "layer": [
    {"data": {"name": "grid"},
     "mark": {"type": "rule", "stroke": "#c9c9c9", "strokeWidth": 1},
     "encoding": {
      "x": {"field": "t", "type": "quantitative", "scale": {"domain": [-1.376, 22], "nice": false, "zero": false}, "axis": {"values": [0,5,10,15,20], "title": "Time", "titleX": 274.9, "titleY": 23, "labelFont": "Liberation Serif", "labelFontSize": 22, "labelPadding": 0, "titleFont": "Liberation Serif", "titleFontSize": 24, "titleFontWeight": "normal"}},
      "y": {"datum": "top", "type": "nominal", "scale": {"type": "point", "domain": ["top","s0","τ1","s1","s2","τ2","s3","τ3"], "range": [78, 272.5], "padding": 0}, "axis": null},
      "y2": {"value": "height"}}},
    {"data": {"name": "c_tasks"},
     "mark": {"type": "rule", "stroke": "#bdbdbd", "strokeWidth": 1},
     "encoding": {
      "x": {"datum": -0.5, "type": "quantitative", "scale": {"domain": [-1.376, 22], "nice": false, "zero": false}, "axis": {"values": [0,5,10,15,20], "title": "Time", "titleX": 274.9, "titleY": 23, "labelFont": "Liberation Serif", "labelFontSize": 22, "labelPadding": 0, "titleFont": "Liberation Serif", "titleFontSize": 24, "titleFontWeight": "normal"}},
      "x2": {"datum": 22},
      "y": {"field": "task", "type": "nominal", "scale": {"type": "point", "domain": ["top","s0","τ1","s1","s2","τ2","s3","τ3"], "range": [78, 272.5], "padding": 0}, "axis": null}}},
    {"data": {"name": "c_tasks"},
     "mark": {"type": "point", "shape": "M-1,-1L0,0L-1,1", "size": 36, "filled": false, "stroke": "#bdbdbd", "strokeWidth": 1, "opacity": 1},
     "encoding": {
      "x": {"datum": 22, "type": "quantitative", "scale": {"domain": [-1.376, 22], "nice": false, "zero": false}, "axis": {"values": [0,5,10,15,20], "title": "Time", "titleX": 274.9, "titleY": 23, "labelFont": "Liberation Serif", "labelFontSize": 22, "labelPadding": 0, "titleFont": "Liberation Serif", "titleFontSize": 24, "titleFontWeight": "normal"}},
      "y": {"field": "task", "type": "nominal", "scale": {"type": "point", "domain": ["top","s0","τ1","s1","s2","τ2","s3","τ3"], "range": [78, 272.5], "padding": 0}, "axis": null}}},
    {"data": {"values": [{}]},
     "mark": {"type": "rule", "stroke": "black", "strokeWidth": 1.3},
     "encoding": {
      "x": {"datum": -0.5, "type": "quantitative", "scale": {"domain": [-1.376, 22], "nice": false, "zero": false}, "axis": {"values": [0,5,10,15,20], "title": "Time", "titleX": 274.9, "titleY": 23, "labelFont": "Liberation Serif", "labelFontSize": 22, "labelPadding": 0, "titleFont": "Liberation Serif", "titleFontSize": 24, "titleFontWeight": "normal"}},
      "y": {"datum": "top", "type": "nominal", "scale": {"type": "point", "domain": ["top","s0","τ1","s1","s2","τ2","s3","τ3"], "range": [78, 272.5], "padding": 0}, "axis": null},
      "y2": {"value": "height"}}},
    {"data": {"values": [{}]},
     "mark": {"type": "rule", "stroke": "black", "strokeWidth": 1.3},
     "encoding": {
      "x": {"datum": -0.5, "type": "quantitative", "scale": {"domain": [-1.376, 22], "nice": false, "zero": false}, "axis": {"values": [0,5,10,15,20], "title": "Time", "titleX": 274.9, "titleY": 23, "labelFont": "Liberation Serif", "labelFontSize": 22, "labelPadding": 0, "titleFont": "Liberation Serif", "titleFontSize": 24, "titleFontWeight": "normal"}},
      "x2": {"datum": 22},
      "y": {"value": "height"}}},
    {"data": {"values": [{}]},
     "mark": {"type": "point", "shape": "M-1,-1L0,0L-1,1", "size": 36, "filled": false, "stroke": "black", "strokeWidth": 1.3, "opacity": 1},
     "encoding": {
      "x": {"datum": 22, "type": "quantitative", "scale": {"domain": [-1.376, 22], "nice": false, "zero": false}, "axis": {"values": [0,5,10,15,20], "title": "Time", "titleX": 274.9, "titleY": 23, "labelFont": "Liberation Serif", "labelFontSize": 22, "labelPadding": 0, "titleFont": "Liberation Serif", "titleFontSize": 24, "titleFontWeight": "normal"}},
      "y": {"value": "height"}}},
    {"data": {"values": [{}]},
     "mark": {"type": "point", "shape": "M-1,1L0,0L1,1", "size": 36, "filled": false, "stroke": "black", "strokeWidth": 1.3, "opacity": 1},
     "encoding": {
      "x": {"datum": -0.5, "type": "quantitative", "scale": {"domain": [-1.376, 22], "nice": false, "zero": false}, "axis": {"values": [0,5,10,15,20], "title": "Time", "titleX": 274.9, "titleY": 23, "labelFont": "Liberation Serif", "labelFontSize": 22, "labelPadding": 0, "titleFont": "Liberation Serif", "titleFontSize": 24, "titleFontWeight": "normal"}},
      "y": {"datum": "top", "type": "nominal", "scale": {"type": "point", "domain": ["top","s0","τ1","s1","s2","τ2","s3","τ3"], "range": [78, 272.5], "padding": 0}, "axis": null}}},
    {"data": {"name": "c_boxes"},
     "mark": {"type": "bar", "height": 34, "yOffset": -17, "stroke": "#333333", "strokeWidth": 1.5, "strokeDash": [6, 3.5]},
     "encoding": {
      "x": {"field": "start", "type": "quantitative", "scale": {"domain": [-1.376, 22], "nice": false, "zero": false}, "axis": {"values": [0,5,10,15,20], "title": "Time", "titleX": 274.9, "titleY": 23, "labelFont": "Liberation Serif", "labelFontSize": 22, "labelPadding": 0, "titleFont": "Liberation Serif", "titleFontSize": 24, "titleFontWeight": "normal"}},
      "x2": {"field": "end"},
      "y": {"field": "task", "type": "nominal", "scale": {"type": "point", "domain": ["top","s0","τ1","s1","s2","τ2","s3","τ3"], "range": [78, 272.5], "padding": 0}, "axis": null},
      "fill": {"field": "proc", "type": "nominal", "scale": {"domain": ["π1","π2","π3"], "range": ["#ffffff","#a6a6a6","#555555"]}, "legend": null}}},
    {"data": {"name": "c_events"},
     "mark": {"type": "point", "size": 2025, "filled": false, "stroke": "#1a1a1a", "strokeWidth": 2.5, "opacity": 1, "yOffset": -22.5},
     "encoding": {
      "x": {"field": "t", "type": "quantitative", "scale": {"domain": [-1.376, 22], "nice": false, "zero": false}, "axis": {"values": [0,5,10,15,20], "title": "Time", "titleX": 274.9, "titleY": 23, "labelFont": "Liberation Serif", "labelFontSize": 22, "labelPadding": 0, "titleFont": "Liberation Serif", "titleFontSize": 24, "titleFontWeight": "normal"}},
      "y": {"field": "task", "type": "nominal", "scale": {"type": "point", "domain": ["top","s0","τ1","s1","s2","τ2","s3","τ3"], "range": [78, 272.5], "padding": 0}, "axis": null},
      "shape": {"field": "kind", "type": "nominal", "scale": {"domain": ["release","deadline","completion"], "range": ["M0,0L0,-2M-0.22,-1.65L0,-2L0.22,-1.65", "M0,-2L0,0M-0.22,-0.35L0,0L0.22,-0.35", "M0,0L0,-2M-0.4,-2L0.4,-2"]}, "legend": null}}},
    {"data": {"name": "c_late"},
     "mark": {"type": "rule", "stroke": "black", "strokeWidth": 1, "yOffset": -55, "y2Offset": -55},
     "encoding": {
      "x": {"field": "from", "type": "quantitative", "scale": {"domain": [-1.376, 22], "nice": false, "zero": false}, "axis": {"values": [0,5,10,15,20], "title": "Time", "titleX": 274.9, "titleY": 23, "labelFont": "Liberation Serif", "labelFontSize": 22, "labelPadding": 0, "titleFont": "Liberation Serif", "titleFontSize": 24, "titleFontWeight": "normal"}},
      "x2": {"field": "to"},
      "y": {"field": "task", "type": "nominal", "scale": {"type": "point", "domain": ["top","s0","τ1","s1","s2","τ2","s3","τ3"], "range": [78, 272.5], "padding": 0}, "axis": null}}},
    {"data": {"name": "c_late"},
     "mark": {"type": "point", "shape": "M1,-1L0,0L1,1", "size": 25, "filled": false, "stroke": "black", "strokeWidth": 1, "opacity": 1, "yOffset": -55, "xOffset": 1.2},
     "encoding": {
      "x": {"field": "from", "type": "quantitative", "scale": {"domain": [-1.376, 22], "nice": false, "zero": false}, "axis": {"values": [0,5,10,15,20], "title": "Time", "titleX": 274.9, "titleY": 23, "labelFont": "Liberation Serif", "labelFontSize": 22, "labelPadding": 0, "titleFont": "Liberation Serif", "titleFontSize": 24, "titleFontWeight": "normal"}},
      "y": {"field": "task", "type": "nominal", "scale": {"type": "point", "domain": ["top","s0","τ1","s1","s2","τ2","s3","τ3"], "range": [78, 272.5], "padding": 0}, "axis": null}}},
    {"data": {"name": "c_late"},
     "mark": {"type": "point", "shape": "M-1,-1L0,0L-1,1", "size": 25, "filled": false, "stroke": "black", "strokeWidth": 1, "opacity": 1, "yOffset": -55, "xOffset": -1.2},
     "encoding": {
      "x": {"field": "to", "type": "quantitative", "scale": {"domain": [-1.376, 22], "nice": false, "zero": false}, "axis": {"values": [0,5,10,15,20], "title": "Time", "titleX": 274.9, "titleY": 23, "labelFont": "Liberation Serif", "labelFontSize": 22, "labelPadding": 0, "titleFont": "Liberation Serif", "titleFontSize": 24, "titleFontWeight": "normal"}},
      "y": {"field": "task", "type": "nominal", "scale": {"type": "point", "domain": ["top","s0","τ1","s1","s2","τ2","s3","τ3"], "range": [78, 272.5], "padding": 0}, "axis": null}}},
    {"data": {"name": "c_late"},
     "mark": {"type": "text", "align": "center", "baseline": "alphabetic", "dy": -62, "fontSize": 24, "font": "Liberation Serif", "fill": "black"},
     "encoding": {
      "x": {"field": "to", "type": "quantitative", "scale": {"domain": [-1.376, 22], "nice": false, "zero": false}, "axis": {"values": [0,5,10,15,20], "title": "Time", "titleX": 274.9, "titleY": 23, "labelFont": "Liberation Serif", "labelFontSize": 22, "labelPadding": 0, "titleFont": "Liberation Serif", "titleFontSize": 24, "titleFontWeight": "normal"}},
      "y": {"field": "task", "type": "nominal", "scale": {"type": "point", "domain": ["top","s0","τ1","s1","s2","τ2","s3","τ3"], "range": [78, 272.5], "padding": 0}, "axis": null},
      "text": {"field": "label"}}},
    {"data": {"name": "c_tasks"},
     "mark": {"type": "text", "align": "right", "baseline": "alphabetic", "dx": -12, "dy": -12.5, "fontSize": 24, "fontStyle": "italic", "font": "Liberation Serif", "fill": "black"},
     "encoding": {
      "x": {"datum": -0.5, "type": "quantitative", "scale": {"domain": [-1.376, 22], "nice": false, "zero": false}, "axis": {"values": [0,5,10,15,20], "title": "Time", "titleX": 274.9, "titleY": 23, "labelFont": "Liberation Serif", "labelFontSize": 22, "labelPadding": 0, "titleFont": "Liberation Serif", "titleFontSize": 24, "titleFontWeight": "normal"}},
      "y": {"field": "task", "type": "nominal", "scale": {"type": "point", "domain": ["top","s0","τ1","s1","s2","τ2","s3","τ3"], "range": [78, 272.5], "padding": 0}, "axis": null},
      "text": {"field": "label"}}}
   ]
  }
 ],
 "config": {
  "view": {"stroke": null},
  "font": "Liberation Serif",
  "text": {"font": "Liberation Serif"},
  "title": {"font": "Liberation Serif"},
  "axis": {"labelFont": "Liberation Serif", "titleFont": "Liberation Serif", "titleFontWeight": "normal", "labelColor": "black", "titleColor": "black"},
  "axisX": {"domain": false, "ticks": false, "tickSize": 0, "grid": false, "labelFont": "Liberation Serif", "labelFontSize": 22, "labelColor": "black", "labelPadding": 0, "labelFlush": false, "labelOverlap": false, "titleFont": "Liberation Serif", "titleFontSize": 24, "titleFontWeight": "normal", "titleColor": "black", "titleBaseline": "top"}
 }
}
